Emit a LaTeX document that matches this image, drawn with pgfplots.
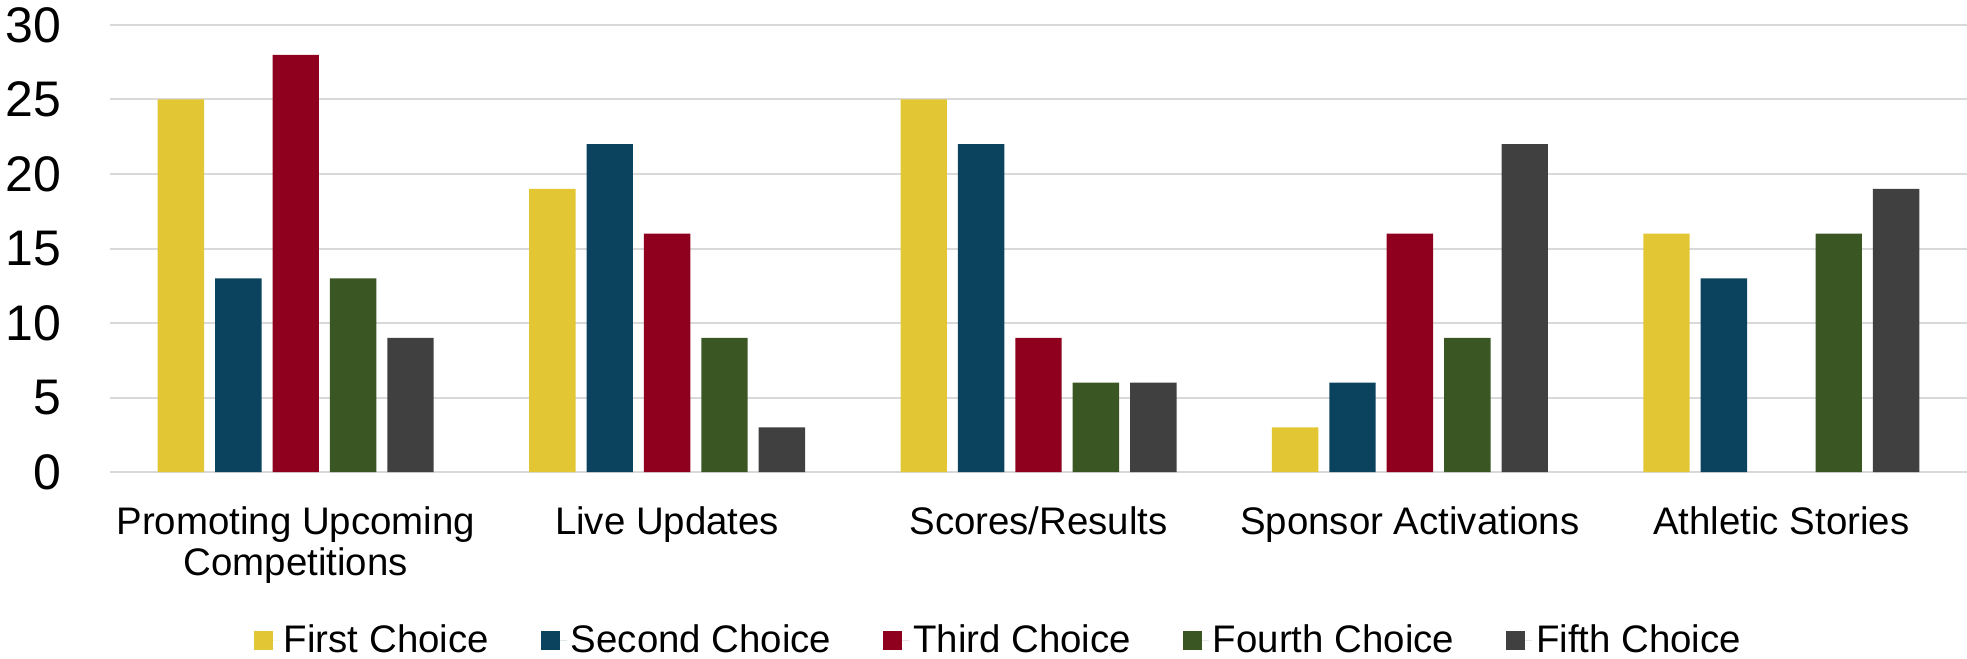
\documentclass[border=0pt]{standalone}
\usepackage{pgfplots}
\pgfplotsset{compat=1.18}
\usepackage{fontspec}
\setmainfont{Liberation Sans}
\definecolor{cA}{RGB}{227,198,52}
\definecolor{cB}{RGB}{11,67,94}
\definecolor{cC}{RGB}{142,0,30}
\definecolor{cD}{RGB}{58,86,35}
\definecolor{cE}{RGB}{64,64,64}
\definecolor{grid}{RGB}{217,217,217}
\begin{document}
\begin{tikzpicture}
\begin{axis}[
  name=ax,
  at={(0,0)}, anchor=south west,
  width=928.5pt, height=223.5pt, scale only axis,
  ybar=5.5pt, bar width=23.2pt,
  xmin=-0.5, xmax=4.5, ymin=0, ymax=30,
  xtick=data,
  xticklabels={{Promoting Upcoming\\Competitions},{Live Updates},{Scores/Results},{Sponsor Activations},{Athletic Stories}},
  ytick={0,5,...,30},
  major tick length=0pt,
  axis line style={draw=none},
  ymajorgrids, grid style={draw=grid, line width=1pt},
  /pgf/number format/assume math mode=true,
  yticklabel style={font=\fontsize{25}{30}\selectfont, inner sep=0pt, anchor=east, xshift=-24pt},
  xticklabel style={font=\fontsize{19.2}{20.5}\selectfont, align=center, inner sep=0pt, anchor=north, yshift=-17pt},
  legend columns=5,
  legend style={draw=none, at={(0.479,-0.376)}, anchor=center,
    font=\fontsize{19.2}{20.5}\selectfont,
    /tikz/every even column/.append style={column sep=24pt},
    nodes={inner sep=2pt}},
  legend image code/.code={\fill[#1] (0pt,-4.75pt) rectangle (9.5pt,4.75pt); \path (0pt,0pt) -- (13pt,0pt);},
]
\addplot[fill=cA, draw=none] coordinates {(0,25) (1,19) (2,25) (3,3) (4,16)};
\addplot[fill=cB, draw=none] coordinates {(0,13) (1,22) (2,22) (3,6) (4,13)};
\addplot[fill=cC, draw=none] coordinates {(0,28) (1,16) (2,9) (3,16)};
\addplot[fill=cD, draw=none] coordinates {(0,13) (1,9) (2,6) (3,9) (4,16)};
\addplot[fill=cE, draw=none] coordinates {(0,9) (1,3) (2,6) (3,22) (4,19)};
\legend{First Choice, Second Choice, Third Choice, Fourth Choice, Fifth Choice}
\end{axis}
\pgfresetboundingbox
\useasboundingbox ([xshift=-55pt,yshift=-93pt]ax.south west) rectangle ([yshift=12.5pt]ax.north east);
\end{tikzpicture}
\end{document}
